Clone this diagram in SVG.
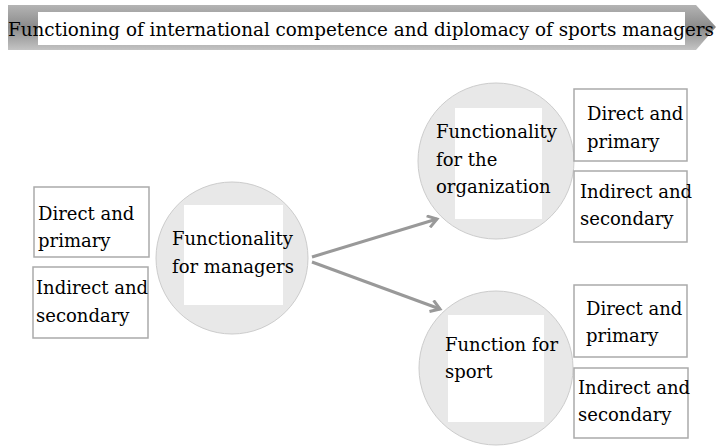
<svg xmlns="http://www.w3.org/2000/svg" width="716" height="446" viewBox="0 0 716 446">
<defs>
<linearGradient id="bg" x1="0" y1="0" x2="0" y2="1">
<stop offset="0" stop-color="#b4b4b4"/>
<stop offset="0.5" stop-color="#8a8a8a"/>
<stop offset="1" stop-color="#c4c4c4"/>
</linearGradient>
<marker id="ah" markerWidth="14" markerHeight="14" refX="11" refY="7" orient="auto" markerUnits="userSpaceOnUse">
<path d="M2,1 L11,7 L2,13" fill="none" stroke="#999" stroke-width="3"/>
</marker>
</defs>
<style>
.t{font-family:"DejaVu Serif","Liberation Serif",serif;font-size:18px;fill:#000}
.box{fill:#fff;stroke:#aaa;stroke-width:1.5}
.circ{fill:#e8e8e8;stroke:#ccc;stroke-width:1}
.inner{fill:#fff}
.conn{stroke:#999;stroke-width:3;fill:none}
</style>
<g id="title">
<path d="M8,5 L696,5 L716,27 L696,50 L8,50 Z" fill="url(#bg)"/>
<rect x="38" y="12" width="647" height="33" fill="#fff"/>
<text class="t" x="8" y="36" font-size="19" textLength="706" lengthAdjust="spacingAndGlyphs">Functioning of international competence and diplomacy of sports managers</text>
</g>
<g id="connectors">
<line class="conn" x1="312" y1="257" x2="437" y2="219" marker-end="url(#ah)"/>
<line class="conn" x1="312" y1="262" x2="440" y2="309" marker-end="url(#ah)"/>
</g>
<g id="left-direct">
<rect class="box" x="34" y="187" width="115" height="70"/>
<text class="t" x="38" y="220">Direct and</text>
<text class="t" x="38" y="247">primary</text>
</g>
<g id="left-indirect">
<rect class="box" x="33" y="267" width="115" height="71"/>
<text class="t" x="36" y="294">Indirect and</text>
<text class="t" x="36" y="322">secondary</text>
</g>
<g id="managers">
<circle class="circ" cx="232" cy="258" r="76"/>
<rect class="inner" x="184" y="205" width="99" height="100"/>
<text class="t" x="172" y="245">Functionality</text>
<text class="t" x="172" y="273">for managers</text>
</g>
<g id="organization">
<circle class="circ" cx="496" cy="161" r="78"/>
<rect class="inner" x="455" y="108" width="87" height="111"/>
<text class="t" x="436" y="138">Functionality</text>
<text class="t" x="436" y="166">for the</text>
<text class="t" x="436" y="193">organization</text>
</g>
<g id="org-direct">
<rect class="box" x="574" y="89" width="113" height="72"/>
<text class="t" x="587" y="120">Direct and</text>
<text class="t" x="587" y="148">primary</text>
</g>
<g id="org-indirect">
<rect class="box" x="574" y="171" width="113" height="71"/>
<text class="t" x="580" y="198">Indirect and</text>
<text class="t" x="580" y="225">secondary</text>
</g>
<g id="sport">
<circle class="circ" cx="496" cy="368" r="77"/>
<rect class="inner" x="448" y="315" width="96" height="107"/>
<text class="t" x="445" y="351">Function for</text>
<text class="t" x="445" y="378">sport</text>
</g>
<g id="sport-direct">
<rect class="box" x="574" y="285" width="113" height="72"/>
<text class="t" x="586" y="315">Direct and</text>
<text class="t" x="586" y="342">primary</text>
</g>
<g id="sport-indirect">
<rect class="box" x="574" y="368" width="114" height="70"/>
<text class="t" x="578" y="394">Indirect and</text>
<text class="t" x="578" y="421">secondary</text>
</g>
</svg>
